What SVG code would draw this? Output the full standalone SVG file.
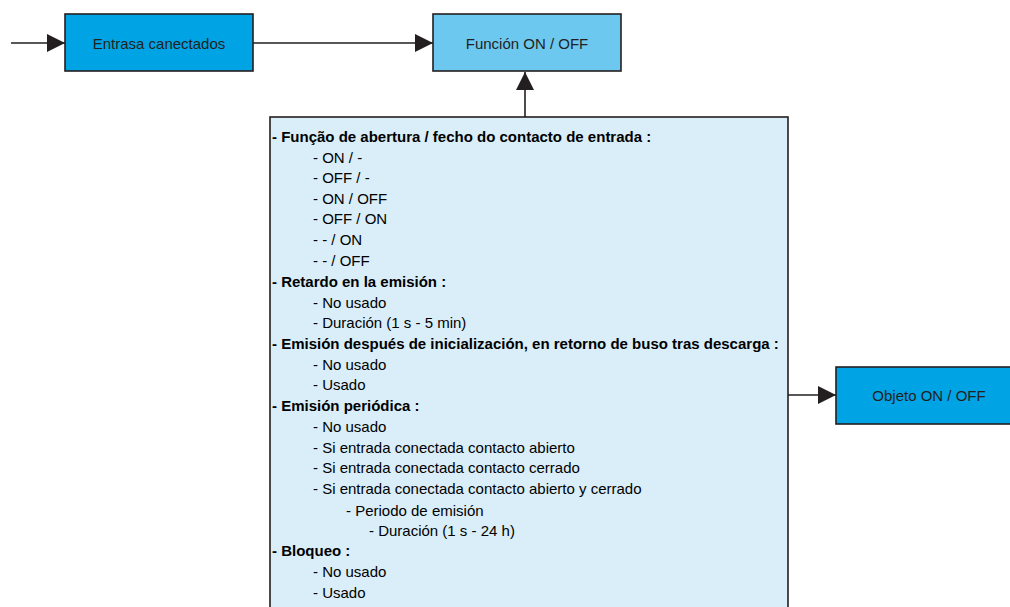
<svg xmlns="http://www.w3.org/2000/svg" width="1010" height="607" viewBox="0 0 1010 607">
<defs>
<marker id="ah" markerWidth="18" markerHeight="18" refX="18" refY="9" orient="auto" markerUnits="userSpaceOnUse"><path d="M0,0 L18,9 L0,18 Z" fill="#231f20"/></marker>
<style>
.box{stroke:#231f20;stroke-width:1.6}
.lbl{font-family:"Liberation Sans",Arial,sans-serif;font-size:15px;fill:#231f20;text-anchor:middle;dominant-baseline:central}
.t{font-family:"Liberation Sans",Arial,sans-serif;font-size:15px;fill:#000}
.b{font-weight:bold}
.c{stroke:#231f20;stroke-width:1.6;fill:none}
</style>
</defs>
<rect width="1010" height="607" fill="#fff"/>
<g id="entrada">
<rect class="box" x="65" y="14" width="188" height="57" fill="#00a3e4"/>
<text class="lbl" x="159" y="43">Entrasa canectados</text>
</g>
<g id="funcion">
<rect class="box" x="433" y="14" width="188" height="57" fill="#6dc8f0"/>
<text class="lbl" x="527" y="43">Función ON / OFF</text>
</g>
<g id="params">
<rect class="box" x="270" y="117" width="518" height="500" fill="#d9eef9"/>
<text class="t b" x="272" y="142">- Função de abertura / fecho do contacto de entrada :</text>
<text class="t" x="313" y="163">- ON / -</text>
<text class="t" x="313" y="183">- OFF / -</text>
<text class="t" x="313" y="204">- ON / OFF</text>
<text class="t" x="313" y="224">- OFF / ON</text>
<text class="t" x="313" y="245">- - / ON</text>
<text class="t" x="313" y="266">- - / OFF</text>
<text class="t b" x="272" y="287">- Retardo en la emisión :</text>
<text class="t" x="313" y="308">- No usado</text>
<text class="t" x="313" y="328">- Duración (1 s - 5 min)</text>
<text class="t b" x="272" y="349">- Emisión después de inicialización, en retorno de buso tras descarga :</text>
<text class="t" x="313" y="370">- No usado</text>
<text class="t" x="313" y="390">- Usado</text>
<text class="t b" x="272" y="411">- Emisión periódica :</text>
<text class="t" x="313" y="432">- No usado</text>
<text class="t" x="313" y="453">- Si entrada conectada contacto abierto</text>
<text class="t" x="313" y="473">- Si entrada conectada contacto cerrado</text>
<text class="t" x="313" y="494">- Si entrada conectada contacto abierto y cerrado</text>
<text class="t" x="346" y="516">- Periodo de emisión</text>
<text class="t" x="369" y="536">- Duración (1 s - 24 h)</text>
<text class="t b" x="272" y="556">- Bloqueo :</text>
<text class="t" x="313" y="577">- No usado</text>
<text class="t" x="313" y="598">- Usado</text>
</g>
<g id="objeto">
<rect class="box" x="836" y="367" width="190" height="57" fill="#00a3e4"/>
<text class="lbl" x="929" y="395">Objeto ON / OFF</text>
</g>
<g id="connectors">
<line class="c" x1="11" y1="43" x2="65" y2="43" marker-end="url(#ah)"/>
<line class="c" x1="253" y1="43" x2="433" y2="43" marker-end="url(#ah)"/>
<line class="c" x1="525" y1="117" x2="525" y2="72" marker-end="url(#ah)"/>
<line class="c" x1="788" y1="395" x2="836" y2="395" marker-end="url(#ah)"/>
</g>
</svg>
